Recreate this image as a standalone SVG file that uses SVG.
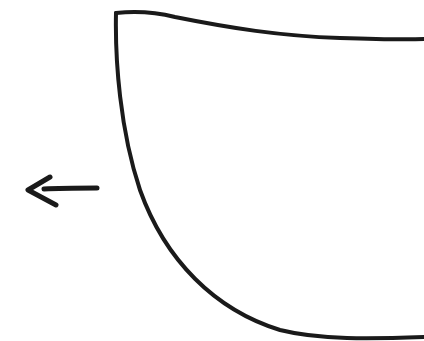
<svg xmlns="http://www.w3.org/2000/svg" width="424" height="341" viewBox="0 0 424 341">
<style>.ink{fill:none;stroke:#1a1a1a;stroke-width:4;stroke-linecap:round;stroke-linejoin:round}.arr{stroke-width:5}</style>
<rect width="424" height="341" fill="#fff"/>
<g id="bowl">
<path class="ink" d="M116,13 C135,11 155,12 175,17 C230,28 280,36 340,38 C370,39 400,40 426,39"/>
<path class="ink" d="M116,13 C115,60 120,130 140,190 C165,260 215,310 280,330 C320,340 370,339 426,337"/>
</g>
<g id="connectors">
<path class="ink arr" d="M44,189 C60,188 80,188 97,188"/>
<path class="ink arr" d="M50,177 L28,190 L56,205"/>
</g>
</svg>
